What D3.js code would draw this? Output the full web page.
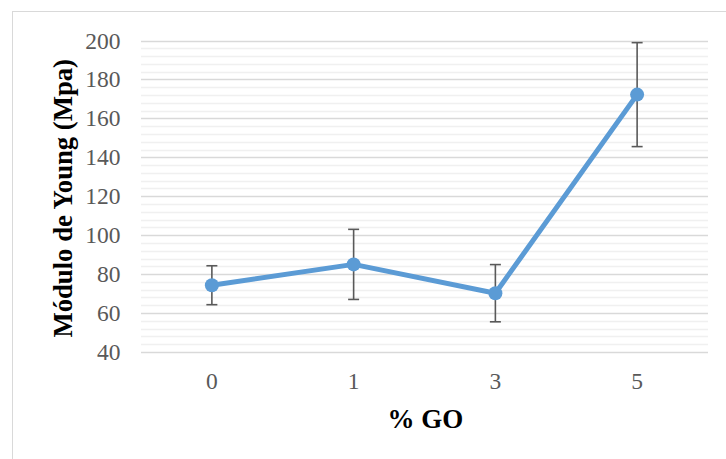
<!DOCTYPE html>
<html>
<head>
<meta charset="utf-8">
<script src="https://cdn.jsdelivr.net/npm/d3@7"></script>
<style>
  html, body { margin: 0; padding: 0; background: #fff; }
  svg { display: block; }
</style>
</head>
<body>
<svg id="chart" width="726" height="459"></svg>
<script>
// Young's modulus vs graphene oxide content
const categories = ["0", "1", "3", "5"];
const modulus = [74.3, 85.0, 70.2, 172.2];
const errors = [10.0, 18.0, 14.7, 26.7];
const yTicks = [40, 60, 80, 100, 120, 140, 160, 180, 200];

const svg = d3.select("#chart");
const W = 726, H = 459;
const m = { left: 141, right: 18, top: 40.5, bottom: 107 };
const plotW = W - m.left - m.right;
const plotH = H - m.top - m.bottom;
const serif = "'Liberation Serif', 'Times New Roman', serif";

// outer chart frame (left and top edges visible)
svg.append("rect")
  .attr("x", 12.5).attr("y", 11.5)
  .attr("width", W + 10).attr("height", H + 10)
  .attr("fill", "#fff").attr("stroke", "#d9d9d9").attr("stroke-width", 1);

const x = d3.scaleBand().domain(categories).range([m.left, m.left + plotW]);
const y = d3.scaleLinear().domain([40, 200]).range([m.top + plotH, m.top]);

const g = svg.append("g");

// minor gridlines every 4 units
const minor = d3.range(44, 200, 4).filter(v => v % 20 !== 0);
g.append("g").selectAll("line").data(minor).join("line")
  .attr("x1", m.left).attr("x2", m.left + plotW)
  .attr("y1", d => Math.round(y(d)) + 0.5).attr("y2", d => Math.round(y(d)) + 0.5)
  .attr("stroke", "#f0f0f0").attr("stroke-width", 1.3);

// major gridlines
g.append("g").selectAll("line").data(yTicks).join("line")
  .attr("x1", m.left).attr("x2", m.left + plotW)
  .attr("y1", d => Math.round(y(d)) + 0.5).attr("y2", d => Math.round(y(d)) + 0.5)
  .attr("stroke", "#d9d9d9").attr("stroke-width", 1.3);

// y axis labels
const yAxis = d3.axisLeft(y).tickValues(yTicks).tickSize(0).tickPadding(0);
const ya = svg.append("g").attr("transform", `translate(${m.left - 20.5},0)`).call(yAxis);
ya.select(".domain").remove();
ya.selectAll("text")
  .attr("font-family", serif)
  .attr("font-size", 23.5).attr("fill", "#595959");

// x axis labels
const xAxis = d3.axisBottom(x).tickSize(0).tickPadding(0);
const xa = svg.append("g").attr("transform", `translate(0,${m.top + plotH + 20})`).call(xAxis);
xa.select(".domain").remove();
xa.selectAll("text")
  .attr("font-family", serif)
  .attr("font-size", 23.5).attr("fill", "#595959");

const cx = d => x(d) + x.bandwidth() / 2;
const pts = categories.map((c, i) => ({ c, v: modulus[i], e: errors[i] }));

// series line
svg.append("path").datum(pts)
  .attr("fill", "none").attr("stroke", "#5b9bd5").attr("stroke-width", 5)
  .attr("stroke-linejoin", "round")
  .attr("d", d3.line().x(d => cx(d.c)).y(d => y(d.v)));

// error bars
const eb = svg.append("g").attr("stroke", "#595959").attr("stroke-width", 1.6);
eb.selectAll("line.v").data(pts).join("line").attr("class", "v")
  .attr("x1", d => cx(d.c)).attr("x2", d => cx(d.c))
  .attr("y1", d => y(d.v + d.e)).attr("y2", d => y(d.v - d.e));
eb.selectAll("line.t").data(pts).join("line").attr("class", "t")
  .attr("x1", d => cx(d.c) - 5.5).attr("x2", d => cx(d.c) + 5.5)
  .attr("y1", d => y(d.v + d.e)).attr("y2", d => y(d.v + d.e));
eb.selectAll("line.b").data(pts).join("line").attr("class", "b")
  .attr("x1", d => cx(d.c) - 5.5).attr("x2", d => cx(d.c) + 5.5)
  .attr("y1", d => y(d.v - d.e)).attr("y2", d => y(d.v - d.e));

// markers
svg.append("g").selectAll("circle").data(pts).join("circle")
  .attr("cx", d => cx(d.c)).attr("cy", d => y(d.v)).attr("r", 7)
  .attr("fill", "#5b9bd5");

// axis titles
svg.append("text")
  .attr("x", m.left + plotW / 2 + 1).attr("y", 428)
  .attr("text-anchor", "middle")
  .attr("font-family", serif)
  .attr("font-weight", "bold").attr("font-size", 27).attr("fill", "#000")
  .text("% GO");

svg.append("text")
  .attr("transform", `translate(71.5,${m.top + plotH / 2 + 2}) rotate(-90)`)
  .attr("text-anchor", "middle")
  .attr("font-family", serif)
  .attr("font-weight", "bold").attr("font-size", 26.7).attr("fill", "#000")
  .text("Módulo de Young (Mpa)");
</script>
</body>
</html>
